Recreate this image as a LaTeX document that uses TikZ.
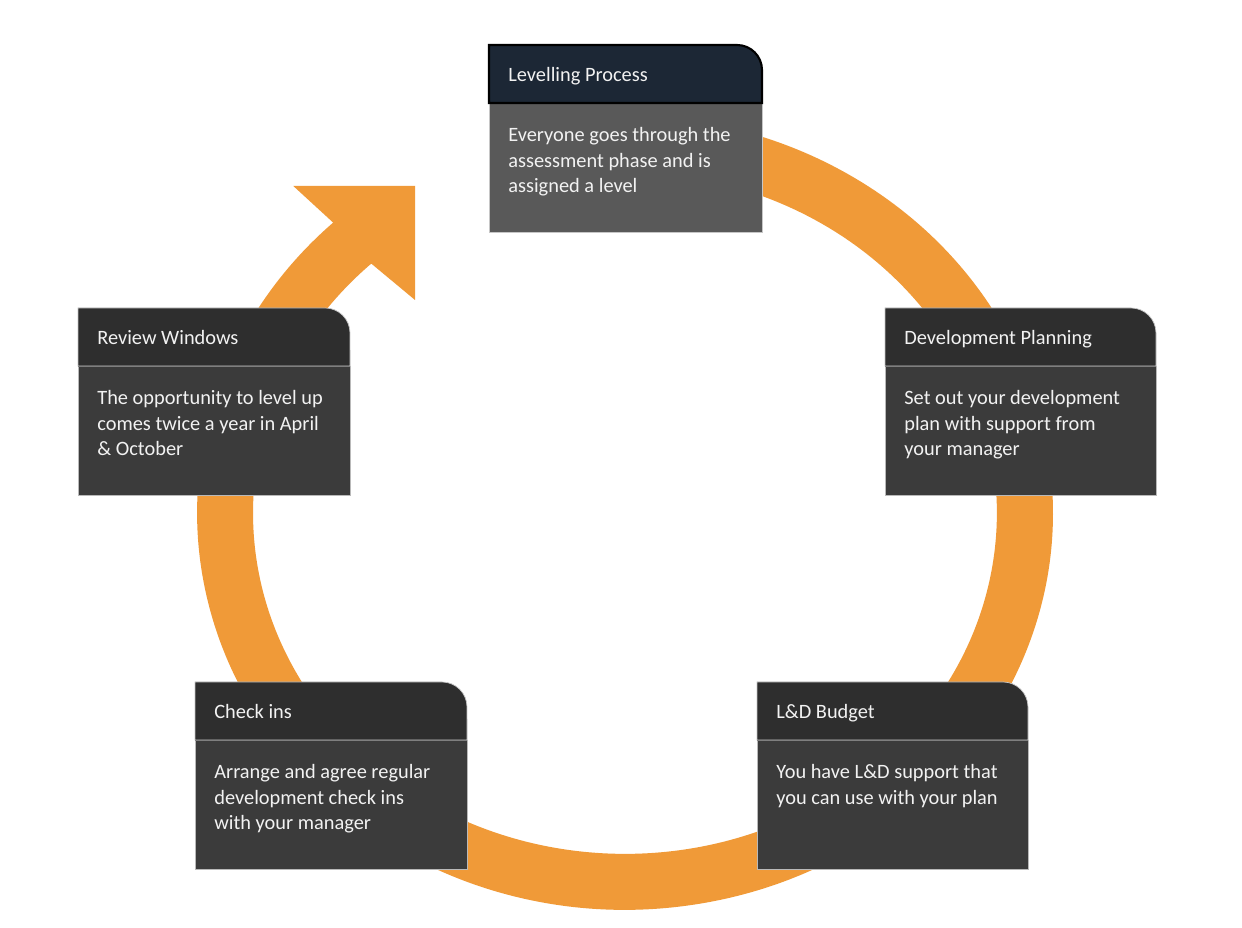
\documentclass[tikz,border=0pt]{standalone}
\usepackage{fontspec}
\setmainfont{Carlito}
\definecolor{ringorange}{HTML}{F09A38}
\definecolor{navyhdr}{HTML}{1C2735}
\definecolor{greybody}{HTML}{595959}
\definecolor{darkhdr}{HTML}{2E2E2E}
\definecolor{darkbody}{HTML}{3B3B3B}
\definecolor{lighttext}{HTML}{F2F2F2}
\tikzset{
  titletext/.style={anchor=base west, inner sep=0pt, text=lighttext, font=\fontsize{11.6}{14.5}\selectfont},
  bodytext/.style={anchor=base west, inner sep=0pt, text=lighttext, font=\fontsize{11.6}{14.5}\selectfont},
  tophdr/.style={fill=navyhdr, draw=black, line width=1.2pt},
  topbody/.style={fill=greybody, draw=gray!45, line width=0.4pt},
  darkhead/.style={fill=darkhdr, draw=gray!45, line width=0.4pt},
  darkbox/.style={fill=darkbody, draw=gray!55, line width=0.4pt},
  divider/.style={draw=gray!70!black, line width=0.5pt},
  ringfill/.style={fill=ringorange}
}
% #1 name, #2 left, #3 top, #4 right, #5 header style, #6 body style, #7 title, #8 body text
\newcommand\cyclebox[8]{%
  \path[#6] ({#2},{#3+58}) rectangle ({#4},{#3+187});
  \draw[divider] ({#2},{#3+58}) -- ({#4},{#3+58});
  \path[#5] ({#2},{#3+58}) -- ({#2},{#3}) -- ({#4-25},{#3}) arc[start angle=90,end angle=0,radius=0.5cm] -- ({#4},{#3+58}) -- cycle;
  \node[titletext] (#1-title) at ({#2+19},{#3+37}) {#7};
  \node[bodytext] (#1-body) at ({#2+19},{#3+97}) {\parbox[t]{6cm}{#8}};
}
\begin{document}
\begin{tikzpicture}[x=0.02cm,y=-0.02cm]
\useasboundingbox (0,0) rectangle (1242,928);
\fill[white] (0,0) rectangle (1242,928);
% ring with arrow head
\coordinate (wingA) at (293.3,186);
\coordinate (tip) at (415,186);
\coordinate (wingB) at (415,300);
\coordinate (innerEnd) at (371.3,263.6);
\coordinate (outerStart) at (550.7,122.0);
\path[ringfill] (wingA) -- (tip) -- (wingB) -- (innerEnd)
  arc[start angle=133, end angle=460, x radius=7.44cm, y radius=6.82cm]
  -- (outerStart)
  arc[start angle=460, end angle=133, x radius=8.56cm, y radius=7.94cm]
  -- cycle;
% boxes
\cyclebox{lev}{489}{45}{762}{tophdr}{topbody}{Levelling Process}{Everyone goes through the\\assessment phase and is\\assigned a level}
\cyclebox{dev}{885}{308}{1156}{darkhead}{darkbox}{Development Planning}{Set out your development\\plan with support from\\your manager}
\cyclebox{rev}{78}{308}{350}{darkhead}{darkbox}{Review Windows}{The opportunity to level up\\comes twice a year in April\\\& October}
\cyclebox{chk}{195}{682}{467}{darkhead}{darkbox}{Check ins}{Arrange and agree regular\\development check ins\\with your manager}
\cyclebox{bud}{757}{682}{1028}{darkhead}{darkbox}{L\&D Budget}{You have L\&D support that\\you can use with your plan}
\end{tikzpicture}
\end{document}
